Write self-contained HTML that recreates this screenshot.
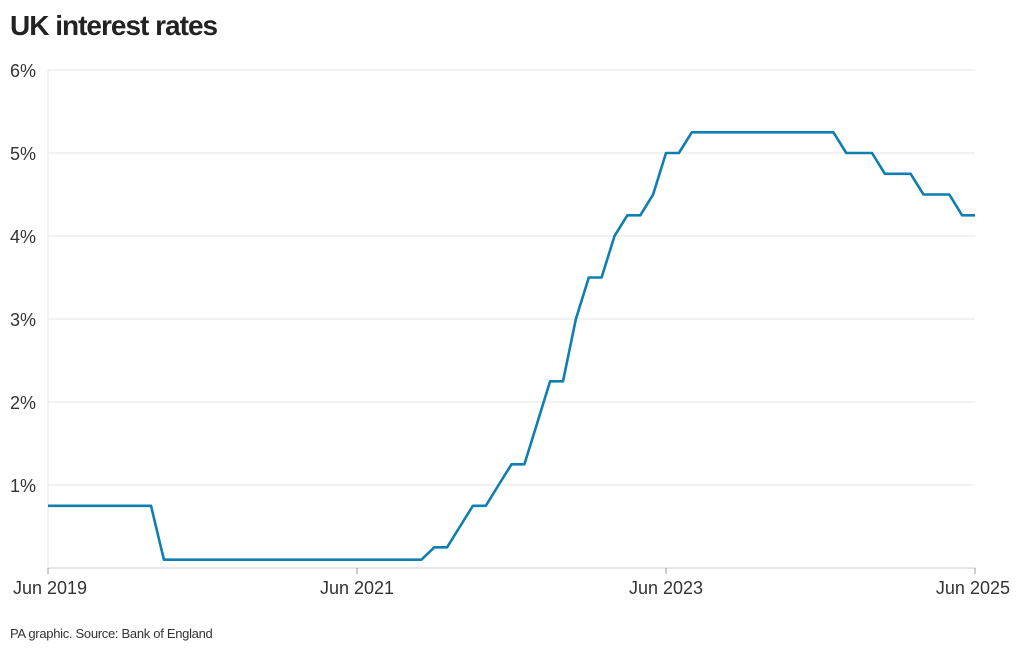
<!DOCTYPE html>
<html><head><meta charset="utf-8">
<style>
body{margin:0;background:#fff;width:1020px;height:650px;overflow:hidden;font-family:"Liberation Sans",sans-serif;}
#title{position:absolute;left:10px;top:10px;font-size:28px;font-weight:bold;color:#222;letter-spacing:-1px;margin:0}
#source{position:absolute;left:10px;top:626px;font-size:13px;color:#333;letter-spacing:-0.3px}
svg{position:absolute;left:0;top:0}
</style></head><body>
<h1 id="title">UK interest rates</h1>
<div id="source">PA graphic. Source: Bank of England</div>
<svg id="chart" width="1020" height="650"></svg>
<script>
const startYear = 2019, startMonth = 5; // Jun 2019
const rates = [0.75,0.75,0.75,0.75,0.75,0.75,0.75,0.75,0.75,
0.1,0.1,0.1,0.1,0.1,0.1,0.1,0.1,0.1,0.1,0.1,0.1,0.1,0.1,0.1,0.1,0.1,0.1,0.1,0.1,0.1,
0.25,0.25,0.5,0.75,0.75,1.0,1.25,1.25,1.75,2.25,2.25,3.0,3.5,3.5,4.0,4.25,4.25,4.5,5.0,5.0,
5.25,5.25,5.25,5.25,5.25,5.25,5.25,5.25,5.25,5.25,5.25,5.25,
5.0,5.0,5.0,4.75,4.75,4.75,4.5,4.5,4.5,4.25,4.25];
const yTicks = [1,2,3,4,5,6];
const yTickLabels = ["1%","2%","3%","4%","5%","6%"];
const xTicks = [0,24,48,72];
const xTickLabels = ["Jun 2019","Jun 2021","Jun 2023","Jun 2025"];

const NS="http://www.w3.org/2000/svg";
const svg=document.getElementById('chart');
const x0=48,x1=975,y0=568,y1=70,yMax=6,nMonths=72;
const xs=m=>x0+(x1-x0)*m/nMonths;
const ys=v=>y0-(y0-y1)*v/yMax;
function mk(t,a){const e=document.createElementNS(NS,t);for(const k in a)e.setAttribute(k,a[k]);svg.appendChild(e);return e;}

yTicks.forEach((v,i)=>{
  const g=mk('line',{x1:x0,x2:x1,y1:ys(v),y2:ys(v),stroke:'#e6e6e6','stroke-width':1});
  
  
  const t=mk('text',{x:10,y:ys(v)+7,'font-size':18,fill:'#333','font-family':'Liberation Sans, sans-serif'});
  t.textContent=yTickLabels[i];
  
  
});
const ax=mk('line',{x1:x0,x2:x1,y1:y0,y2:y0,stroke:'#cccccc','stroke-width':1});


const yax=mk('line',{x1:x0,x2:x0,y1:y1,y2:y0,stroke:'#e6e6e6','stroke-width':1});


xTicks.forEach((m,i)=>{
  const tk=mk('line',{x1:xs(m),x2:xs(m),y1:y0,y2:y0+6,stroke:'#999','stroke-width':1});
  
  
  let anchor='middle',x=xs(m);
  if(i===0){anchor='start';x=13;}
  if(i===xTicks.length-1){anchor='end';x=1010;}
  const t=mk('text',{x:x,y:594,'font-size':18,fill:'#333','text-anchor':anchor,'font-family':'Liberation Sans, sans-serif'});
  t.textContent=xTickLabels[i];
  
  
});
const pts=rates.map((v,m)=>xs(m).toFixed(1)+','+ys(v).toFixed(1)).join(' ');
const line=mk('polyline',{points:pts,fill:'none',stroke:'#0f7eb0','stroke-width':2.6,'stroke-linejoin':'round'});


</script>
</body></html>
